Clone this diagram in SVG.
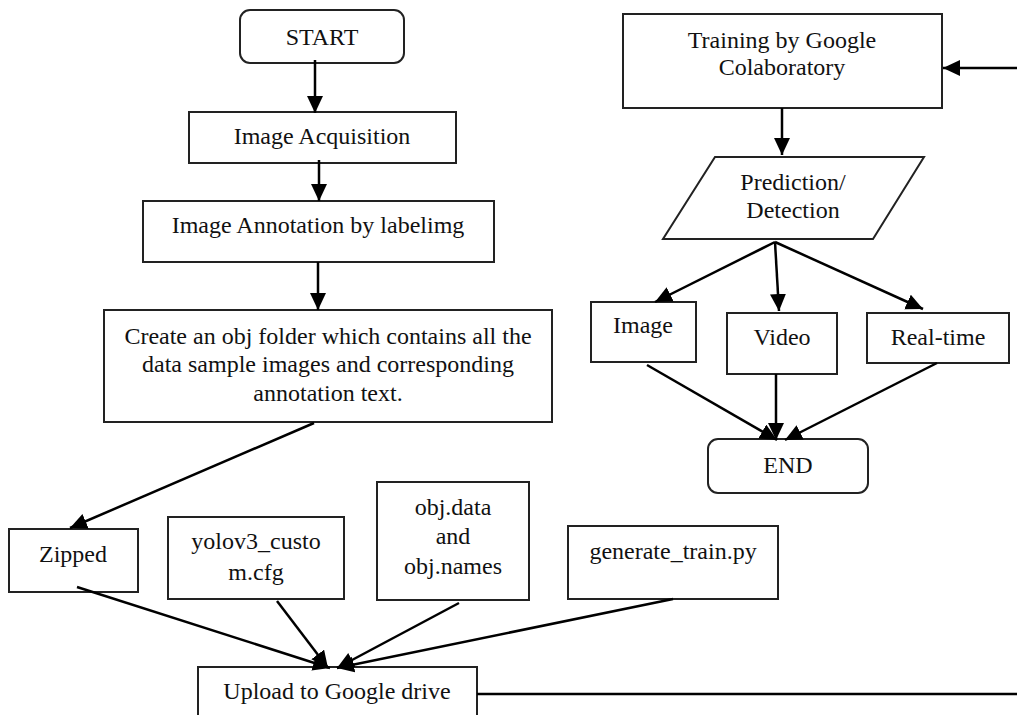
<svg xmlns="http://www.w3.org/2000/svg" width="1017" height="715" viewBox="0 0 1017 715">
<defs>
<marker id="ah" markerUnits="userSpaceOnUse" markerWidth="18" markerHeight="18" refX="17" refY="8" orient="auto">
<path d="M0,0 L17,8 L0,16 Z" fill="#000"/>
</marker>
<style>
.box{fill:#fff;stroke:#222;stroke-width:2}
.t{font-family:"Liberation Serif","Times New Roman",serif;font-size:24px;fill:#111;text-anchor:middle}
.c{fill:none;stroke:#000;stroke-width:2.5}
</style>
</defs>
<rect width="1017" height="715" fill="#fff"/>
<g id="start"><rect class="box" x="240" y="10" width="164" height="53" rx="10"/><text class="t" x="322" y="45">START</text></g>
<g id="acq"><rect class="box" x="189" y="112" width="267" height="51"/><text class="t" x="322" y="144">Image Acquisition</text></g>
<g id="annot"><rect class="box" x="143" y="201" width="351" height="61"/><text class="t" x="318" y="233">Image Annotation by labelimg</text></g>
<g id="create"><rect class="box" x="104" y="310" width="448" height="112"/><text class="t" x="328" y="344">Create an obj folder which contains all the</text><text class="t" x="328" y="372">data sample images and corresponding</text><text class="t" x="328" y="401">annotation text.</text></g>
<g id="zipped"><rect class="box" x="9" y="529" width="129" height="63"/><text class="t" x="73" y="562">Zipped</text></g>
<g id="yolo"><rect class="box" x="168" y="517" width="176" height="82"/><text class="t" x="256" y="549">yolov3_custo</text><text class="t" x="256" y="580">m.cfg</text></g>
<g id="objdata"><rect class="box" x="377" y="482" width="152" height="118"/><text class="t" x="453" y="515">obj.data</text><text class="t" x="453" y="544">and</text><text class="t" x="453" y="574">obj.names</text></g>
<g id="gen"><rect class="box" x="568" y="526" width="210" height="73"/><text class="t" x="673" y="559">generate_train.py</text></g>
<g id="upload"><rect class="box" x="198" y="667" width="279" height="70"/><text class="t" x="337" y="699">Upload to Google drive</text></g>
<g id="training"><rect class="box" x="623" y="14" width="319" height="94"/><text class="t" x="782" y="48">Training by Google</text><text class="t" x="782" y="75">Colaboratory</text></g>
<g id="predict"><polygon class="box" points="715,157 924,157 873,239 663,239"/><text class="t" x="793" y="190">Prediction/</text><text class="t" x="793" y="218">Detection</text></g>
<g id="image"><rect class="box" x="591" y="302" width="105" height="60"/><text class="t" x="643" y="333">Image</text></g>
<g id="video"><rect class="box" x="727" y="313" width="110" height="61"/><text class="t" x="782" y="345">Video</text></g>
<g id="realtime"><rect class="box" x="867" y="313" width="142" height="50"/><text class="t" x="938" y="345">Real-time</text></g>
<g id="end"><rect class="box" x="708" y="439" width="160" height="54" rx="10"/><text class="t" x="788" y="473">END</text></g>
<g id="connectors">
<line class="c" x1="315" y1="60" x2="315" y2="113" marker-end="url(#ah)"/>
<line class="c" x1="319" y1="160" x2="319" y2="201" marker-end="url(#ah)"/>
<line class="c" x1="318" y1="262" x2="318" y2="310" marker-end="url(#ah)"/>
<line class="c" x1="314" y1="423" x2="70" y2="528" marker-end="url(#ah)"/>
<line class="c" x1="77" y1="587" x2="330" y2="668" marker-end="url(#ah)"/>
<line class="c" x1="277" y1="601" x2="328" y2="668" marker-end="url(#ah)"/>
<line class="c" x1="459" y1="603" x2="337" y2="668" marker-end="url(#ah)"/>
<line class="c" x1="673" y1="599" x2="337" y2="668" marker-end="url(#ah)"/>
<path class="c" d="M477,694 H1022 V68 H943" marker-end="url(#ah)"/>
<line class="c" x1="782" y1="108" x2="782" y2="155" marker-end="url(#ah)"/>
<line class="c" x1="775" y1="242" x2="655" y2="302" marker-end="url(#ah)"/>
<line class="c" x1="775" y1="242" x2="779" y2="311" marker-end="url(#ah)"/>
<line class="c" x1="775" y1="242" x2="923" y2="309" marker-end="url(#ah)"/>
<line class="c" x1="647" y1="365" x2="777" y2="440" marker-end="url(#ah)"/>
<line class="c" x1="776" y1="374" x2="776" y2="440" marker-end="url(#ah)"/>
<line class="c" x1="937" y1="363" x2="785" y2="440" marker-end="url(#ah)"/>
</g>
</svg>
